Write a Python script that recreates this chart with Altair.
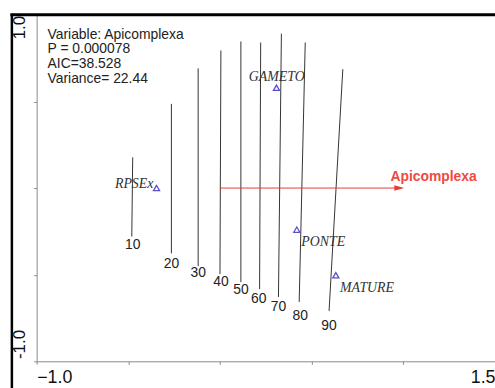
import altair as alt
import pandas as pd

# ---- data ----
levels = ["10", "20", "30", "40", "50", "60", "70", "80", "90"]
line_x_top = [-0.476, -0.265, -0.119, 0.005, 0.114, 0.222, 0.335, 0.465, 0.670]
line_y_top = [0.177, 0.486, 0.691, 0.794, 0.846, 0.840, 0.891, 0.840, 0.686]
line_x_bot = [-0.481, -0.265, -0.119, 0.000, 0.114, 0.216, 0.319, 0.432, 0.595]
line_y_bot = [-0.280, -0.377, -0.451, -0.497, -0.543, -0.583, -0.629, -0.657, -0.709]
level_lab_x = [-0.476, -0.265, -0.119, 0.005, 0.114, 0.211, 0.319, 0.438, 0.595]
level_lab_y = [-0.331, -0.440, -0.491, -0.543, -0.589, -0.640, -0.686, -0.737, -0.794]

samples = ["RPSEx", "GAMETO", "PONTE", "MATURE"]
sample_x = [-0.346, 0.308, 0.419, 0.632]
sample_y = [0.000, 0.579, -0.240, -0.503]
sample_lab_x = [-0.573, 0.157, 0.443, 0.654]
sample_lab_y = [0.023, 0.640, -0.314, -0.577]

arrow_name = ["Apicomplexa"]
arrow_x0 = [0.0]
arrow_y0 = [0.0]
arrow_x1 = [0.978]
arrow_y1 = [0.0]
arrow_lab_x = [1.165]
arrow_lab_y = [0.063]

info_lines = ["Variable: Apicomplexa", "P = 0.000078", "AIC=38.528", "Variance= 22.44"]
info_x = [-0.9405, -0.9405, -0.9405, -0.9405]
info_y = [0.863, 0.777, 0.691, 0.606]

ylab_text = ["1.0", "-1.0"]
ylab_y = [0.926, -0.903]

x_ticks = [-1.0, -0.5, 0.0, 0.5, 1.0, 1.5]
y_ticks = [-1.0, -0.5, 0.0, 0.5, 1.0]
frame_top = [1.0]

# ---- tables ----
contours = pd.DataFrame({"level": levels, "x": line_x_top, "y": line_y_top,
                         "x2": line_x_bot, "y2": line_y_bot,
                         "lx": level_lab_x, "ly": level_lab_y})
samp = pd.DataFrame({"name": samples, "x": sample_x, "y": sample_y,
                     "lx": sample_lab_x, "ly": sample_lab_y})
arrow = pd.DataFrame({"name": arrow_name, "x": arrow_x0, "y": arrow_y0,
                      "x2": arrow_x1, "y2": arrow_y1,
                      "lx": arrow_lab_x, "ly": arrow_lab_y})
info = pd.DataFrame({"t": info_lines, "x": info_x, "y": info_y})
ylabs = pd.DataFrame({"t": ylab_text, "y": ylab_y})
frame = pd.DataFrame({"ytop": frame_top})

xs = alt.Scale(domain=[-1.0, 1.5], nice=False, zero=False)
ys = alt.Scale(domain=[-1.0, 1.0], nice=False, zero=False)

xax = alt.Axis(values=x_ticks, title=None, grid=False, domainColor="#8a8a8a",
               tickColor="#8a8a8a", tickSize=3, labelFlush=True,
               labelExpr="datum.value == -1 || datum.value == 1.5 ? format(datum.value, '.1f') : ''",
               labelFont="Liberation Sans", labelFontSize=18, labelColor="#111111",
               labelPadding=4)
yax = alt.Axis(values=y_ticks, title=None, grid=False, domainColor="#8a8a8a",
               tickColor="#8a8a8a", tickSize=3, labels=False)

def X(f):
    return alt.X(f, type="quantitative", scale=xs, axis=xax)

def Y(f):
    return alt.Y(f, type="quantitative", scale=ys, axis=yax)

lines = alt.Chart(contours).mark_rule(color="#333333", strokeWidth=1).encode(
    x=X("x"), y=Y("y"), x2="x2", y2="y2")

line_labels = alt.Chart(contours).mark_text(
    font="Liberation Sans", fontSize=14, color="#222222", baseline="middle"
).encode(x=X("lx"), y=Y("ly"), text="level")

arrow_line = alt.Chart(arrow).mark_rule(color="#ea3b33", strokeWidth=1).encode(
    x=X("x"), y=Y("y"), x2="x2", y2="y2")

arrow_head = alt.Chart(arrow).mark_point(
    shape="M -1 -0.55 L 1 0 L -1 0.55 Z", filled=True, color="#ea3b33",
    size=100, opacity=1
).encode(x=X("x2"), y=Y("y2"))

arrow_label = alt.Chart(arrow).mark_text(
    font="Liberation Sans", fontSize=14, fontWeight="bold", color="#ee4a40",
    baseline="middle"
).encode(x=X("lx"), y=Y("ly"), text="name")

points = alt.Chart(samp).mark_point(
    shape="triangle-up", filled=False, color="#5a4fc8", size=38, strokeWidth=1.3,
    opacity=1
).encode(x=X("x"), y=Y("y"))

point_labels = alt.Chart(samp).mark_text(
    font="Liberation Serif", fontStyle="italic", fontSize=14, color="#333333",
    align="left", baseline="middle"
).encode(x=X("lx"), y=Y("ly"), text="name")

info_text = alt.Chart(info).mark_text(
    font="Liberation Sans", fontSize=14, color="#222222", align="left",
    baseline="alphabetic"
).encode(x=X("x"), y=Y("y"), text="t")

y_labels = alt.Chart(ylabs).mark_text(
    font="Liberation Sans", fontSize=17, color="#111111", angle=270,
    align="center", baseline="middle"
).encode(x=alt.value(-17), y=Y("y"), text="t")

frame_top_rule = alt.Chart(frame).mark_rule(color="#000000", strokeWidth=3).encode(
    y=Y("ytop"), x=alt.value(-26.5), x2=alt.value(470))
frame_left_rule = alt.Chart(frame).mark_rule(color="#000000", strokeWidth=2.5).encode(
    x=alt.value(-25), y=alt.value(-1), y2=alt.value(380))

chart = alt.layer(
    lines, line_labels, arrow_line, arrow_head, arrow_label, points,
    point_labels, info_text, y_labels, frame_top_rule, frame_left_rule
).properties(
    width=463, height=350,
    padding={"left": 37, "top": 13, "right": 0, "bottom": 25},
    autosize=alt.AutoSizeParams(type="none"),
    background="white"
).configure_view(stroke=None)

chart.save("out.html", embed_options={"renderer": "svg", "actions": False})
